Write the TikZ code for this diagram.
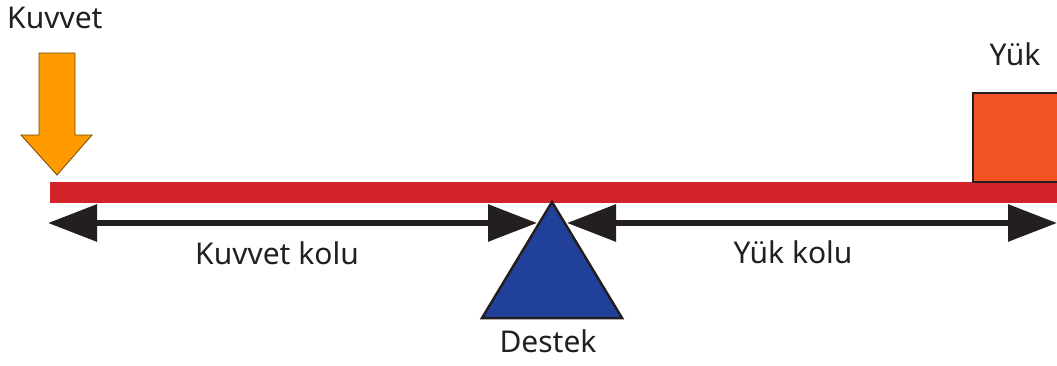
\documentclass[tikz,border=0pt]{standalone}
\usepackage{fontspec}
\setmainfont{Noto Sans}
\usetikzlibrary{arrows.meta}
\definecolor{barred}{HTML}{D2232A}
\definecolor{pivotblue}{HTML}{21409A}
\definecolor{forceorange}{HTML}{FF9B00}
\definecolor{loadred}{HTML}{F15324}
\definecolor{inkblack}{HTML}{231F20}
\definecolor{textgray}{HTML}{231F20}
\tikzset{
  lbl/.style={anchor=base, inner sep=0pt, text=textgray, font=\fontsize{30}{35}\selectfont},
  armline/.style={draw=inkblack, line width=6pt,
    arrows={Triangle[length=49pt,width=36pt]-Triangle[length=49pt,width=36pt]}},
  outlined/.style={draw=inkblack, line width=2.5pt, line join=miter}
}
\begin{document}
\begin{tikzpicture}[x=1pt, y=-1pt]
  \useasboundingbox (0,0) rectangle (1057,365);

  % lever beam
  \fill[barred] (50,182) rectangle (1060,203);

  % load block resting on the beam
  \path[outlined, fill=loadred] (973,93) rectangle (1062,182);
  \node[lbl] (yuk) at (1015,65) {Yük};

  % applied force arrow
  \path[draw=black!55!forceorange, line width=0.8pt, fill=forceorange]
    (39,53) -- (75,53) -- (75,135) -- (92,135) -- (57,175) -- (21,135) -- (39,135) -- cycle;
  \node[lbl, anchor=base west] (kuvvet) at (7,28) {Kuvvet};

  % fulcrum
  \coordinate (apex) at (552,202);
  \path[outlined, fill=pivotblue] (apex) -- (482,318) -- (622,318) -- cycle;
  \node[lbl] (destek) at (548,352) {Destek};

  % lever arms
  \coordinate (leftEnd) at (48,223);
  \coordinate (pivL) at (537,223);
  \coordinate (pivR) at (567,223);
  \coordinate (rightEnd) at (1057,223);
  \draw[armline] (leftEnd) -- (pivL);
  \draw[armline] (pivR) -- (rightEnd);
  \node[lbl] (kkol) at (277,264) {Kuvvet kolu};
  \node[lbl] (ykol) at (793,263) {Yük kolu};
\end{tikzpicture}
\end{document}
